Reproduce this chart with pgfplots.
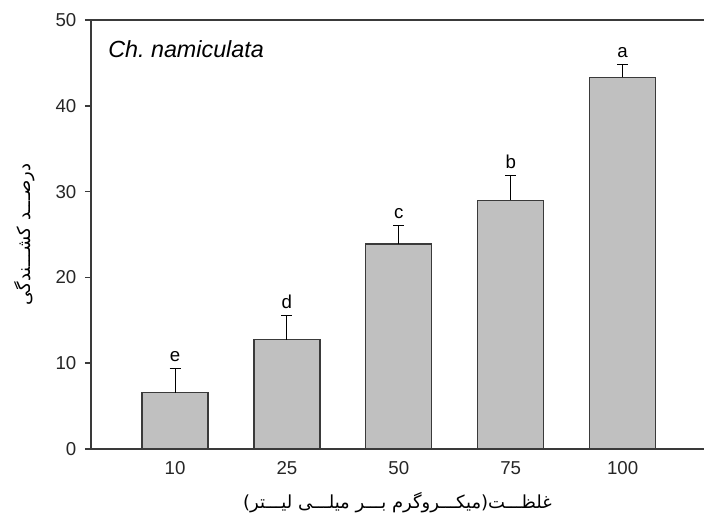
\documentclass[border=0pt]{standalone}
\usepackage{fontspec}
\setmainfont{Liberation Sans}
\newfontfamily\arabicfont[Script=Arabic]{DejaVu Sans}
\TeXXeTstate=1
\usepackage{pgfplots}
\usepackage{pgfplotstable}
\pgfplotsset{compat=1.18}
\definecolor{barfill}{HTML}{C0C0C0}
\definecolor{axisgray}{HTML}{3A3A3A}

\pgfplotstableread{
x y err top lab
0 6.55 2.80 9.35 e
1 12.75 2.85 15.60 d
2 23.90 2.10 26.00 c
3 29.00 2.90 31.90 b
4 43.30 1.55 44.85 a
}\datatable

\begin{document}
\begin{tikzpicture}
\useasboundingbox (-68.25pt,-54.75pt) rectangle (459.75pt,336.75pt);
\begin{axis}[
  at={(0,0)}, anchor=south west,
  width=459.75pt, height=321.75pt, scale only axis,
  xmin=-0.751, xmax=4.727, ymin=0, ymax=50,
  axis lines*=left,
  axis line style={axisgray, line width=1.2pt},
  xtick={0,1,2,3,4},
  xticklabels={10,25,50,75,100},
  ytick={0,10,20,30,40,50},
  tick align=outside,
  major tick length=4.5pt,
  tick style={axisgray, line width=1.2pt},
  xtick style={draw=none},
  /pgf/number format/assume math mode=true,
  ticklabel style={font=\fontsize{14}{16}\selectfont, text=black!85},
  yticklabel style={xshift=-3pt},
  xticklabel style={yshift=-1pt, text height=10pt, text depth=0pt},
  xlabel={\arabicfont\beginR غلظـــت(میکـــروگرم بـــر میلـــی لیـــتر)\endR},
  ylabel={\arabicfont\beginR درصـــد کشـــندگی\endR},
  every axis x label/.style={at={([yshift=-40.5pt]axis description cs:0.5,0)}, anchor=center, font=\fontsize{13.5}{16}\selectfont},
  every axis y label/.style={at={([xshift=-49.5pt]axis description cs:0,0.5)}, rotate=90, anchor=center, font=\fontsize{13.5}{16}\selectfont},
  clip=false,
]
\addplot[ybar, bar width=0.59, fill=barfill, draw=axisgray, line width=0.9pt,
  error bars/.cd, y dir=plus, y explicit,
  error bar style={black, line width=0.7pt},
  error mark options={black, line width=0.7pt, mark size=4.1pt, rotate=90}]
  table[x=x, y=y, y error=err]{\datatable};
\addplot[draw=none, mark=none, nodes near coords, point meta=explicit symbolic,
  nodes near coords style={anchor=south, inner sep=0pt, yshift=5pt, font=\fontsize{14}{16}\selectfont, text=black}]
  table[x=x, y=top, meta=lab]{\datatable};
\draw[axisgray, line width=1.2pt] (rel axis cs:0,1) -- (rel axis cs:1,1);
\node[anchor=base west, inner sep=0pt, font=\fontsize{17.5}{20}\selectfont\itshape] at (axis cs:-0.599,45.65) {Ch.\ namiculata};
\end{axis}
\end{tikzpicture}
\end{document}
